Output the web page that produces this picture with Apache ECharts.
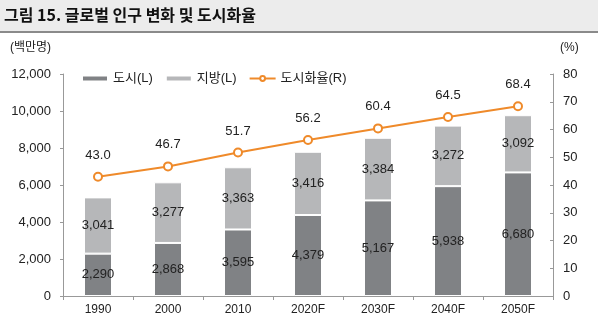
<!DOCTYPE html>
<html><head><meta charset="utf-8">
<script src="https://cdn.jsdelivr.net/npm/echarts@6/dist/echarts.min.js"></script>
<style>html,body{margin:0;padding:0;background:#fff}#c{width:598px;height:335px}</style>
</head><body><div id="c"></div>
<script>
const categories = ['1990','2000','2010','2020F','2030F','2040F','2050F'];
const urban = [2290,2868,3595,4379,5167,5938,6680];
const rural = [3041,3277,3363,3416,3384,3272,3092];
const urbanRate = [43.0,46.7,51.7,56.2,60.4,64.5,68.4];
const leftTicks = [0,2000,4000,6000,8000,10000,12000];
const rightTicks = [0,10,20,30,40,50,60,70,80];

const FONT = "'Liberation Sans','Noto Sans CJK KR',sans-serif";
const chart = echarts.init(document.getElementById('c'));
chart.setOption({
  animation:false,
  textStyle:{fontFamily:FONT},
  graphic:[
    {type:'rect',shape:{x:0,y:0,width:598,height:32},style:{fill:'#ececec'}},
    {type:'rect',shape:{x:0,y:31,width:598,height:2},style:{fill:'#8a8a8a'}},
    {type:'text',left:4,top:7,style:{text:'그림 15. 글로벌 인구 변화 및 도시화율',font:"bold 16px 'Noto Sans CJK KR',sans-serif",fill:'#111'}},
    {type:'text',left:10,top:42,style:{text:'(백만명)',font:"12px "+FONT,fill:'#222'}},
    {type:'text',left:560,top:42,style:{text:'(%)',font:"12px "+FONT,fill:'#222'}}
  ],
  legend:{
    top:67,left:76,itemGap:12,itemWidth:26,itemHeight:6,
    textStyle:{fontSize:13,color:'#222',fontFamily:FONT},
    data:[{name:'도시(L)',icon:'rect'},{name:'지방(L)',icon:'rect'},{name:'도시화율(R)'}]
  },
  grid:{left:63,right:45,top:74,bottom:39},
  xAxis:{
    type:'category',data:categories,
    axisLine:{lineStyle:{color:'#999'}},
    axisTick:{show:true,length:4,lineStyle:{color:'#999'}},
    axisLabel:{color:'#222',fontSize:12,margin:8}
  },
  yAxis:[
    {type:'value',min:0,max:12000,interval:2000,
     axisLine:{show:true,lineStyle:{color:'#999'}},
     axisTick:{show:true,length:3,lineStyle:{color:'#999'}},
     splitLine:{show:false},
     axisLabel:{color:'#222',fontSize:13,margin:12,formatter:v=>v.toLocaleString('en-US')}},
    {type:'value',min:0,max:80,interval:10,
     axisLine:{show:true,lineStyle:{color:'#999'}},
     axisTick:{show:true,inside:true,length:3,lineStyle:{color:'#999'}},
     splitLine:{show:false},
     axisLabel:{color:'#222',fontSize:13,margin:10}}
  ],
  series:[
    {name:'도시(L)',type:'bar',stack:'p',data:urban,barWidth:28,
     itemStyle:{color:'#808285',borderColor:'#fff',borderWidth:1},
     label:{show:true,position:'inside',color:'#222',fontSize:13,formatter:p=>p.value.toLocaleString('en-US')}},
    {name:'지방(L)',type:'bar',stack:'p',data:rural,barWidth:28,
     itemStyle:{color:'#b6b7b9',borderColor:'#fff',borderWidth:1},
     label:{show:true,position:'inside',color:'#222',fontSize:13,formatter:p=>p.value.toLocaleString('en-US')}},
    {name:'도시화율(R)',type:'line',yAxisIndex:1,data:urbanRate,
     symbol:'circle',symbolSize:8,
     lineStyle:{color:'#ef8a2a',width:2},
     itemStyle:{color:'#fff',borderColor:'#ef8a2a',borderWidth:2},
     label:{show:true,position:'top',distance:10,color:'#222',fontSize:13,formatter:p=>p.value.toFixed(1)}}
  ]
});
</script></body></html>
